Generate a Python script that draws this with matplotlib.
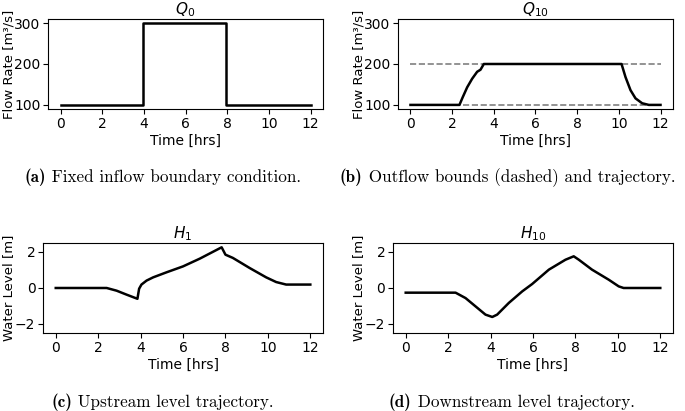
import matplotlib
matplotlib.use("Agg")
import matplotlib.pyplot as plt
from matplotlib.offsetbox import TextArea, HPacker, AnnotationBbox

# Q0: fixed inflow (step)
q0_t = [0, 3.95, 3.95, 7.93, 7.93, 12]
q0_v = [100, 100, 300, 300, 100, 100]

# Q10: outflow trajectory
q10_t = [0, 2.35, 2.5, 2.72, 2.96, 3.2, 3.36, 3.52, 10.13, 10.32, 10.56, 10.8, 11.12, 11.44, 12]
q10_v = [100, 100, 118, 143, 164, 181, 186, 200, 200, 168, 136, 116, 104, 100, 100]
q10_lower = 100
q10_upper = 200

# H1: upstream level
h1_t = [0, 2.4, 2.87, 3.34, 3.85, 3.93, 4.04, 4.28, 4.59, 5.22, 6.0, 6.79, 7.82, 8.0,
        8.35, 9.14, 9.92, 10.39, 10.86, 11.18, 12]
h1_v = [0, 0, -0.15, -0.37, -0.6, -0.04, 0.19, 0.41, 0.59, 0.87, 1.2, 1.63, 2.26, 1.85,
        1.67, 1.11, 0.59, 0.33, 0.19, 0.19, 0.19]

# H10: downstream level
h10_t = [0, 2.35, 2.82, 3.29, 3.76, 4.08, 4.31, 4.86, 5.49, 5.96, 6.75, 7.53, 7.92,
         8.16, 8.78, 9.57, 10.04, 10.27, 12]
h10_v = [-0.26, -0.26, -0.56, -1.02, -1.48, -1.61, -1.48, -0.83, -0.19, 0.22, 1.02, 1.57, 1.76,
         1.57, 1.02, 0.46, 0.09, 0.0, 0.0]

xticks = [0, 2, 4, 6, 8, 10, 12]
fs = 10

fig = plt.figure(figsize=(6.85, 4.11), dpi=100)
ax_a = fig.add_axes([0.0701, 0.7348, 0.4015, 0.219])
ax_b = fig.add_axes([0.581, 0.7348, 0.4015, 0.219])
ax_c = fig.add_axes([0.0628, 0.1898, 0.4088, 0.219])
ax_d = fig.add_axes([0.5737, 0.1898, 0.4088, 0.219])

ax_b.plot([0, 12], [q10_upper, q10_upper], ls="--", color="gray", lw=1.2)
ax_b.plot([0, 12], [q10_lower, q10_lower], ls="--", color="gray", lw=1.2)

ax_a.plot(q0_t, q0_v, color="black", lw=1.8)
ax_b.plot(q10_t, q10_v, color="black", lw=1.8)
ax_c.plot(h1_t, h1_v, color="black", lw=1.8)
ax_d.plot(h10_t, h10_v, color="black", lw=1.8)

for ax, title in [(ax_a, "$Q_0$"), (ax_b, "$Q_{10}$")]:
    ax.set_ylim(90, 310)
    ax.set_yticks([100, 200, 300])
    ax.set_ylabel("Flow Rate [m³/s]", fontsize=9.5)
    ax.yaxis.set_label_coords(-0.118, 0.5)
    ax.set_title(title, fontsize=11, pad=2)

for ax, title in [(ax_c, "$H_1$"), (ax_d, "$H_{10}$")]:
    ax.set_ylim(-2.5, 2.5)
    ax.set_yticks([-2, 0, 2])
    ax.set_ylabel("Water Level [m]", fontsize=9.5)
    ax.yaxis.set_label_coords(-0.1, 0.5)
    ax.set_title(title, fontsize=11, pad=2)

for ax in [ax_a, ax_b, ax_c, ax_d]:
    ax.set_xlim(-0.6, 12.6)
    ax.set_xticks(xticks)
    ax.set_xlabel("Time [hrs]", fontsize=fs, labelpad=2)
    ax.tick_params(labelsize=fs, length=3.5, pad=2)

# sub-figure captions: bold letter + roman text
captions = [
    (0.238, 0.569, "(a)", " Fixed inflow boundary condition."),
    (0.741, 0.569, "(b)", " Outflow bounds (dashed) and trajectory."),
    (0.237, 0.022, "(c)", " Upstream level trajectory."),
    (0.747, 0.022, "(d)", " Downstream level trajectory."),
]
for x, y, tag, s in captions:
    box = HPacker(children=[
        TextArea(tag, textprops=dict(family="cmb10", fontsize=12.3)),
        TextArea(s, textprops=dict(family="cmr10", fontsize=12.3)),
    ], align="baseline", pad=0, sep=0)
    ab = AnnotationBbox(box, (x, y), xycoords="figure fraction",
                        box_alignment=(0.5, 0.5), frameon=False)
    fig.add_artist(ab)

fig.savefig("out.png", dpi=100)
